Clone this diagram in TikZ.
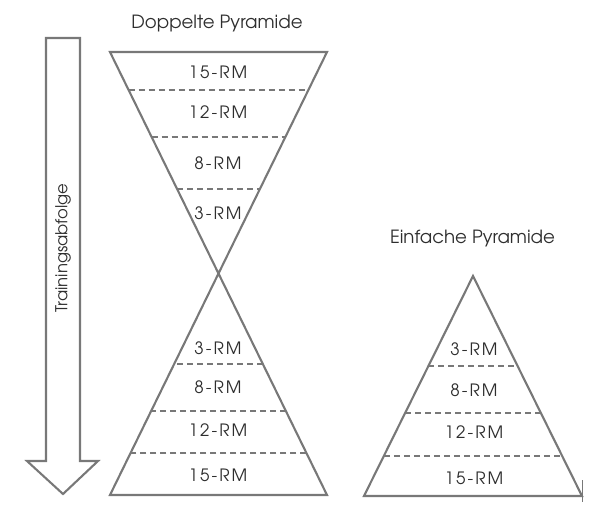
\documentclass[tikz,border=0pt]{standalone}
\usepackage{fontspec}
\setmainfont{texgyreadventor-regular.otf}
\newfontfamily\lblfont{texgyreadventor-regular.otf}[LetterSpace=12]
\usetikzlibrary{calc}
\definecolor{linegray}{HTML}{787878}
\definecolor{txtgray}{HTML}{2E2E2E}
\tikzset{
  outline/.style={draw=linegray, line width=2.1pt, line join=miter},
  divider/.style={draw=linegray, line width=1.5pt, dash pattern=on 6pt off 4pt},
  lbl/.style={text=txtgray, font=\lblfont\fontsize{17}{19}\selectfont, inner sep=0pt, anchor=base},
  side/.style={text=txtgray, font=\fontsize{16.4}{18}\selectfont, inner sep=0pt},
  ttl/.style={text=txtgray, font=\fontsize{18.2}{20}\selectfont, inner sep=0pt, anchor=base}
}
\begin{document}
\begin{tikzpicture}[x=1pt,y=-1pt]
\useasboundingbox (0,0) rectangle (600,523);
% double pyramid
\coordinate (TL) at (110,52);
\coordinate (TR) at (327,52);
\coordinate (BL) at (110,495);
\coordinate (BR) at (327,495);
\draw[outline] (TR) -- (TL) -- (BR) -- (BL) -- (TR) -- cycle;
\foreach \f in {0.0858,0.1919,0.3093,0.7043,0.8104,0.9052}{
  \draw[divider] ($(TL)!\f!(BR)$) -- ($(TR)!\f!(BL)$);
}
\node[ttl] (t1) at (217,28.7) {Doppelte Pyramide};
\node[lbl] (d1) at (218,78) {15-RM};
\node[lbl] (d2) at (218,118) {12-RM};
\node[lbl] (d3) at (218,169) {8-RM};
\node[lbl] (d4) at (218,219) {3-RM};
\node[lbl] (d5) at (218,354) {3-RM};
\node[lbl] (d6) at (218,393) {8-RM};
\node[lbl] (d7) at (218,436) {12-RM};
\node[lbl] (d8) at (218,481.5) {15-RM};
% arrow
\draw[outline] (46,38) -- (80,38) -- (80,461) -- (98,461) -- (63,494) -- (27,461) -- (46,461) -- cycle;
\node[side, rotate=90] (seq) at (63,248) {Trainingsabfolge};
% single pyramid
\coordinate (SA) at (473,276);
\coordinate (SL) at (364,496);
\coordinate (SR) at (582,496);
\draw[outline] (SA) -- (SR) -- (SL) -- cycle;
\foreach \f in {0.409,0.623,0.818}{
  \draw[divider] ($(SA)!\f!(SL)$) -- ($(SA)!\f!(SR)$);
}
\coordinate (tk1) at (582,480);
\coordinate (tk2) at (582,502);
\draw[draw=linegray, line width=1pt] (tk1) -- (tk2);
\node[ttl] (t2) at (472.5,243.3) {Einfache Pyramide};
\node[lbl] (s1) at (474,355.7) {3-RM};
\node[lbl] (s2) at (474,396) {8-RM};
\node[lbl] (s3) at (474,438) {12-RM};
\node[lbl] (s4) at (474,484) {15-RM};
\end{tikzpicture}
\end{document}
